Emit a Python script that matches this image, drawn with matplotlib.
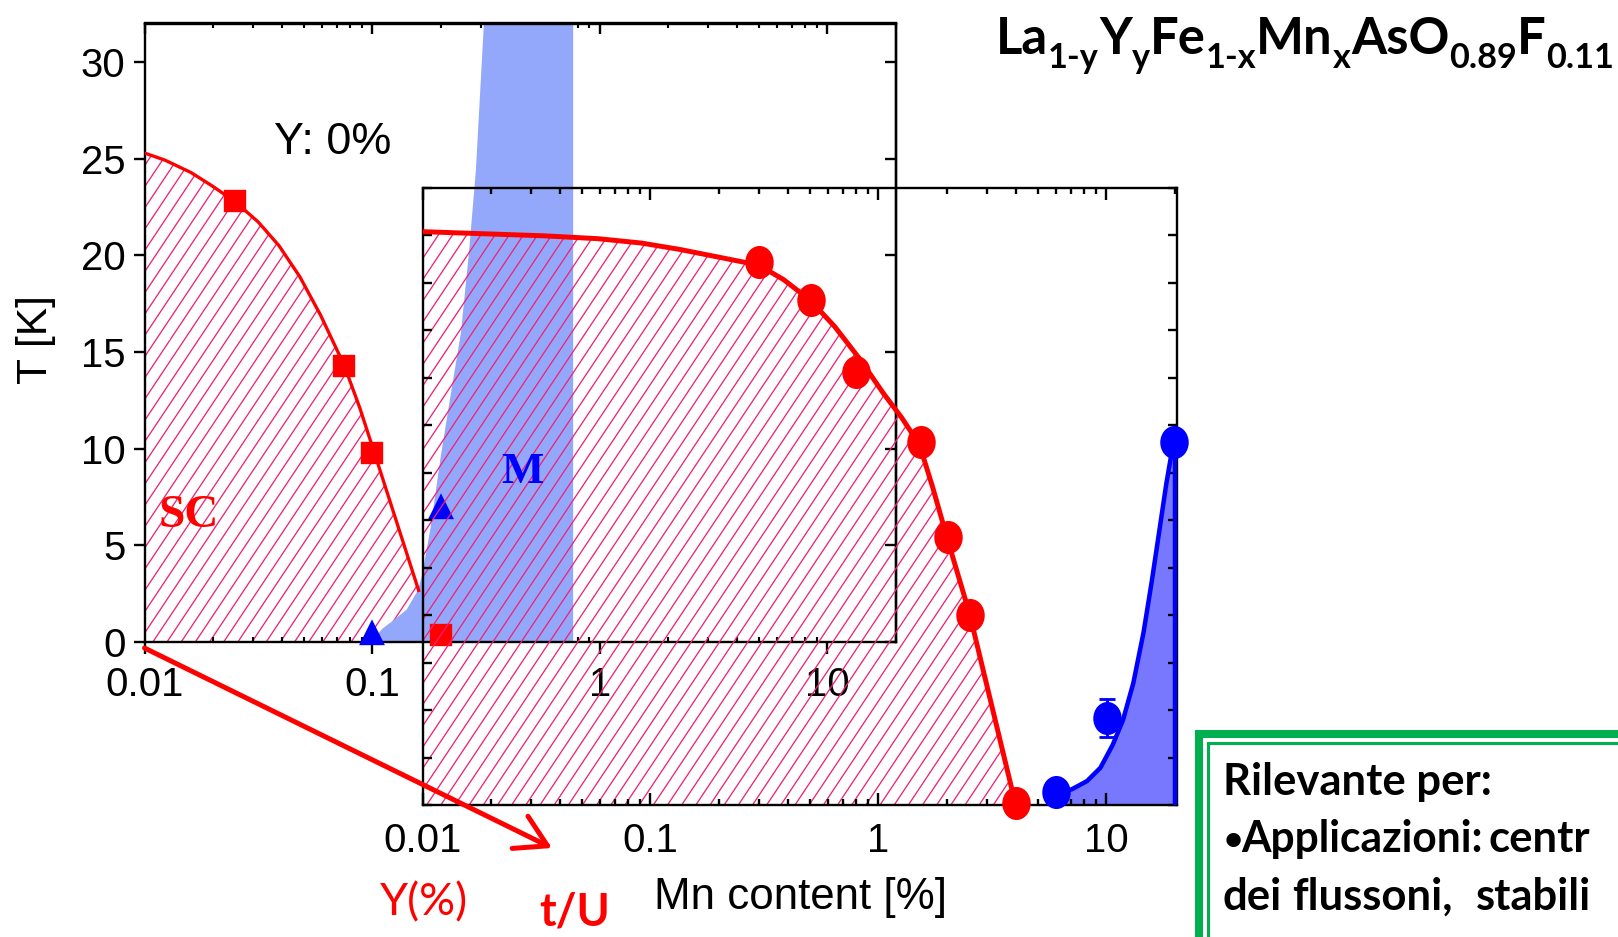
import numpy as np
import matplotlib.pyplot as plt
import matplotlib.hatch as mhatch
from matplotlib.patches import Rectangle
from matplotlib.path import Path
from matplotlib.ticker import FixedLocator, LogLocator, MultipleLocator, NullFormatter

W, H, DPI = 1618, 937, 170
plt.rcParams['font.family'] = ['Liberation Sans', 'DejaVu Sans']
plt.rcParams['hatch.linewidth'] = 0.55

# ---- back panel, Y: 0% ----
sq_x = [0.025, 0.075, 0.1, 0.2]
sq_T = [22.8, 14.3, 9.8, 0.38]
tri_x = [0.1, 0.2]
tri_T = [0.45, 7.0]
sc0_x = [0.01, 0.0123, 0.016, 0.0198, 0.0249, 0.0316, 0.039, 0.0481, 0.0593, 0.0754, 0.0882, 0.1021, 0.16]
sc0_T = [25.3, 24.93, 24.29, 23.6, 22.8, 21.73, 20.5, 18.9, 16.92, 14.31, 12.12, 9.82, 2.67]
m0_T = [0, 0.3, 0.7, 1.2, 1.7, 2.7, 3.5, 6.0, 9.6, 12.8, 16.0, 20.2, 24.4, 32.0]
m0_x = [0.1, 0.103, 0.110, 0.125, 0.141, 0.158, 0.165, 0.180, 0.199, 0.220, 0.244, 0.265, 0.284, 0.308]
m0_right = 0.76

# ---- front panel ----
circ_x = [0.30, 0.506, 0.80, 1.53, 2.02, 2.52, 4.03]
circ_T = [28.6, 26.6, 22.8, 19.1, 14.1, 10.0, 0.1]
bcirc_x = [5.98, 10.07, 19.8]
bcirc_T = [0.66, 4.57, 19.1]
bcirc_err = [0, 1.0, 0]
sc_x = [0.01, 0.0343, 0.0589, 0.0912, 0.135, 0.191, 0.298, 0.383, 0.501, 0.644, 0.826, 1.049,
        1.265, 1.403, 1.557, 1.728, 1.998, 2.512, 4.0]
sc_T = [30.2, 29.98, 29.83, 29.6, 29.26, 28.9, 28.44, 27.68, 26.6, 25.19, 23.51, 21.7,
        20.4, 19.58, 18.5, 16.75, 14.09, 10.06, 0]
m_x = [5.89, 7.03, 8.22, 9.41, 10.65, 11.82, 13.12, 14.55, 15.82, 17.19, 18.3, 19.45, 20.0]
m_T = [0.66, 0.82, 1.26, 1.96, 3.16, 4.47, 6.42, 9.09, 11.8, 14.7, 16.9, 18.76, 19.3]

xticks = [0.01, 0.1, 1, 10]
xlabels = ['0.01', '0.1', '1', '10']

hatch_col = '#ee2277'
light_blue = '#94a8fb'
mid_blue = '#7878ff'


class SteepHatch(mhatch.HatchPatternBase):
    # '/' hatch drawn steeper than 45 deg, like the Origin pattern
    def __init__(self, hatch, density):
        self.num_lines = int((hatch.count('/') + hatch.count('x') + hatch.count('X')) * density)
        self.num_vertices = 4 * self.num_lines

    def set_vertices_and_codes(self, vertices, codes):
        n = self.num_lines
        x0 = np.arange(-n, n) / n
        vertices[0::2, 0] = x0
        vertices[0::2, 1] = 0.0
        vertices[1::2, 0] = x0 + round(0.667 * n) / n
        vertices[1::2, 1] = 1.0
        codes[0::2] = Path.MOVETO
        codes[1::2] = Path.LINETO


mhatch._hatch_types[mhatch._hatch_types.index(mhatch.NorthEastHatch)] = SteepHatch


def fx(x, y):
    return x / W, 1 - y / H


fig = plt.figure(figsize=(W / DPI, H / DPI), dpi=DPI)

# back axes
ax1 = fig.add_axes([144.5 / W, 1 - 642 / H, (896 - 144.5) / W, (642 - 23.5) / H])
ax1.set_xscale('log')
ax1.set_xlim(0.01, 20)
ax1.set_ylim(0, 32)
ax1.fill_between(sc0_x, 0, sc0_T, facecolor='none', edgecolor=hatch_col, hatch='//', linewidth=0, zorder=1)
ax1.fill_betweenx(m0_T, m0_x, m0_right, color=light_blue, linewidth=0, zorder=2)
ax1.plot(sc0_x, sc0_T, color='red', lw=1.4, zorder=3)
ax1.plot(sq_x, sq_T, 's', color='red', ms=8.5, zorder=4, clip_on=False)
ax1.plot(tri_x, tri_T, '^', color='blue', ms=9, zorder=4, clip_on=False)

ax1.xaxis.set_major_locator(FixedLocator(xticks))
ax1.set_xticklabels(xlabels)
ax1.xaxis.set_minor_locator(LogLocator(base=10, subs=np.arange(2, 10)))
ax1.xaxis.set_minor_formatter(NullFormatter())
ax1.yaxis.set_major_locator(MultipleLocator(5))
ax1.tick_params(axis='x', which='major', direction='out', length=5, width=1, labelsize=17, pad=5)
ax1.tick_params(axis='x', which='minor', direction='in', length=2.3, width=0.9)
ax1.tick_params(axis='y', which='major', direction='out', length=4.5, width=1, labelsize=17, pad=3.5)
for s in ax1.spines.values():
    s.set_linewidth(1.0)

top1 = ax1.secondary_xaxis('top')
top1.xaxis.set_major_locator(FixedLocator(xticks))
top1.xaxis.set_minor_locator(LogLocator(base=10, subs=np.arange(2, 10)))
top1.tick_params(which='major', direction='in', length=4.7, width=1, labeltop=False)
top1.tick_params(which='minor', direction='in', length=2.3, width=0.9, labeltop=False)
top1.spines['top'].set_linewidth(1.0)
right1 = ax1.secondary_yaxis('right')
right1.yaxis.set_major_locator(MultipleLocator(5))
right1.tick_params(direction='in', length=4.5, width=1, labelright=False)
right1.spines['right'].set_linewidth(1.0)

# front axes
ax2 = fig.add_axes([422.5 / W, 1 - 805 / H, (1177 - 422.5) / W, (805 - 188) / H])
ax2.set_facecolor('none')
ax1.set_zorder(1)
ax2.set_zorder(2)
ax2.set_xscale('log')
ax2.set_xlim(0.01, 20.4)
ax2.set_ylim(0, 32.5)
ax2.fill_between(sc_x, 0, sc_T, facecolor='none', edgecolor=hatch_col, hatch='//', linewidth=0, zorder=1)
ax2.fill_between(m_x, 0, m_T, color=mid_blue, linewidth=0, zorder=1)
ax2.plot(sc_x, sc_T, color='red', lw=2.1, zorder=3)
ax2.plot(m_x, m_T, color='blue', lw=1.9, zorder=3)
ax2.plot([m_x[-1], m_x[-1]], [0, m_T[-1]], color='blue', lw=1.9, zorder=3)

circ = Path.unit_circle()
ell = Path(circ.vertices * [0.85, 1.0], circ.codes)
ax2.plot(circ_x, circ_T, linestyle='none', marker=ell, color='red', ms=13, zorder=4, clip_on=False)
ax2.errorbar(bcirc_x, bcirc_T, yerr=bcirc_err, fmt='none', ecolor='blue', elinewidth=1.2, capsize=3.5,
             capthick=1.2, zorder=4)
ax2.plot(bcirc_x, bcirc_T, linestyle='none', marker=ell, color='blue', ms=13, zorder=5, clip_on=False)

ax2.xaxis.set_major_locator(FixedLocator(xticks))
ax2.set_xticklabels(xlabels)
ax2.xaxis.set_minor_locator(LogLocator(base=10, subs=np.arange(2, 10)))
ax2.xaxis.set_minor_formatter(NullFormatter())
ax2.yaxis.set_major_locator(MultipleLocator(2.5))
ax2.tick_params(which='both', direction='in', top=True, right=True, labelleft=False, width=1)
ax2.tick_params(axis='x', which='major', length=5.2, labelsize=17, pad=7)
ax2.tick_params(axis='x', which='minor', length=2.6)
ax2.tick_params(axis='y', which='major', length=3.8)
for s in ax2.spines.values():
    s.set_linewidth(1.0)

# arrow from the back origin
ax2.annotate('', xy=(552, H - 848), xytext=(144.5, H - 648),
             xycoords='figure pixels', textcoords='figure pixels',
             arrowprops=dict(arrowstyle='->,head_length=0.65,head_width=0.38', color='red',
                             lw=2.1, mutation_scale=20, shrinkA=0, shrinkB=0),
             annotation_clip=False, zorder=10)

# labels
fig.text(*fx(36, 340), 'T [K]', rotation=90, ha='center', va='center', fontsize=18)
fig.text(*fx(800, 898), 'Mn content [%]', ha='center', va='center', fontsize=18.6, zorder=10)
fig.text(*fx(333, 142), 'Y: 0%', ha='center', va='center', fontsize=19, zorder=10)
fig.text(*fx(189, 516), 'SC', ha='center', va='center', fontsize=20, color='red',
         family='Liberation Serif', weight='bold', zorder=10)
fig.text(*fx(522, 472), 'M', ha='center', va='center', fontsize=19, color='blue',
         family='Liberation Serif', weight='bold', zorder=10)
fig.text(*fx(424, 903), 'Y(%)', ha='center', va='center', fontsize=19, color='red', family='Lato', zorder=10)
fig.text(*fx(575, 913), 't/U', ha='center', va='center', fontsize=19, color='red', family='Lato',
         weight='bold', zorder=10)

# formula title, built piece by piece
pieces = [('La', 0), ('1-y', 1), ('Y', 0), ('y', 1), ('Fe', 0), ('1-x', 1), ('Mn', 0), ('x', 1),
          ('AsO', 0), ('0.89', 1), ('F', 0), ('0.11', 1)]
r = fig.canvas.get_renderer()
xpos = 996
for s, sub in pieces:
    y = 68 if sub else 54
    t = fig.text(*fx(xpos, y), s, fontsize=14.5 if sub else 21.5, family='Lato', weight='bold',
                 ha='left', va='baseline')
    xpos += t.get_window_extent(renderer=r).width

# green box
for x0, y0, lw in [(1198.5, 734, 3.4), (1207.5, 743, 1.3)]:
    fig.add_artist(Rectangle(fx(x0, 1100), (1800 - x0) / W, (1100 - y0) / H,
                             transform=fig.transFigure, fill=False, edgecolor='#00b050', lw=lw))
box_words = [('Rilevante per:', 1223, 795, 18.5), ('\u2022', 1224, 850, 14), ('Applicazioni:', 1241, 852, 18),
             ('centr', 1488, 852, 18.5), ('dei', 1223, 910, 18.5), ('flussoni,', 1292, 910, 18.5),
             ('stabili', 1476, 910, 18.5)]
for s, x, y, fs in box_words:
    fig.text(*fx(x, y), s, fontsize=fs, family='Lato', weight='bold', ha='left', va='baseline')

fig.savefig('out.png', dpi=DPI)
